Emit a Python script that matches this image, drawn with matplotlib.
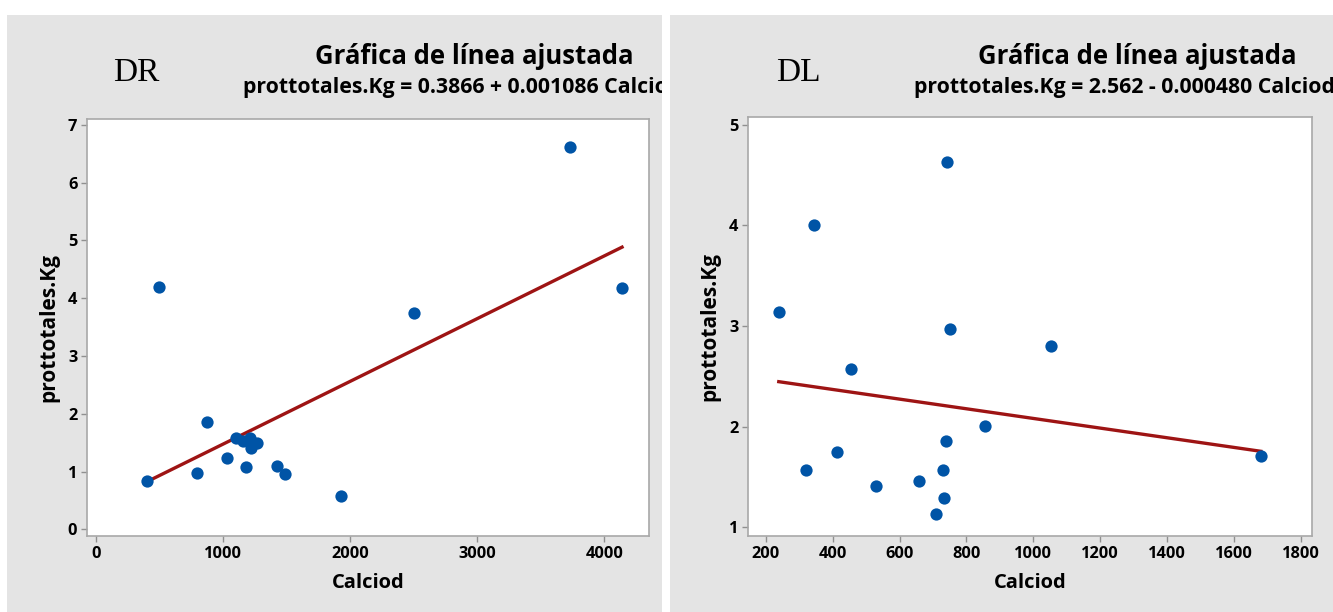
import matplotlib.pyplot as plt
from matplotlib.patches import Rectangle

# DR data
dr_calciod = [402, 499, 799, 875, 1032, 1105, 1162, 1215, 1220, 1272, 1183,
              1429, 1492, 1930, 2501, 3732, 4140]
dr_prot = [0.84, 4.20, 0.98, 1.85, 1.23, 1.575, 1.53, 1.575, 1.41, 1.50, 1.08,
           1.10, 0.96, 0.57, 3.74, 6.61, 4.17]
dr_b0, dr_b1 = 0.3866, 0.001086

# DL data
dl_calciod = [239, 343, 320, 414, 455, 530, 658, 710, 729, 734, 738, 743,
              752, 856, 1054, 1680]
dl_prot = [3.14, 4.00, 1.57, 1.75, 2.57, 1.41, 1.46, 1.13, 1.57, 1.29, 1.86,
           4.63, 2.97, 2.01, 2.80, 1.71]
dl_b0, dl_b1 = 2.562, -0.000480

plt.rcParams['font.family'] = ['Open Sans', 'DejaVu Sans']

W, H = 1333, 612
fig = plt.figure(figsize=(W / 100, H / 100), dpi=100)
fig.patch.set_facecolor('white')

GRAY = '#e4e4e4'
DOT = '#0054a6'
LINE = '#9e1414'


def px(x0, y0, x1, y1):
    # pixel box (top-left origin) -> figure fraction rect
    return [x0 / W, 1 - y1 / H, (x1 - x0) / W, (y1 - y0) / H]


def panel(x0, x1, ax_box, xs, ys, b0, b1, xlim, ylim, xticks, yticks,
          tag, subtitle):
    bg = Rectangle((x0 / W, 0), (x1 - x0) / W, 1 - 15 / H,
                   transform=fig.transFigure, facecolor=GRAY,
                   edgecolor='none', zorder=-5)
    fig.patches.append(bg)

    ax = fig.add_axes(px(*ax_box))
    ax.set_facecolor('white')
    xmin, xmax = min(xs), max(xs)
    ax.plot([xmin, xmax], [b0 + b1 * xmin, b0 + b1 * xmax],
            color=LINE, lw=2.4, zorder=2)
    ax.scatter(xs, ys, s=78, color=DOT, zorder=3, linewidths=0)
    ax.set_xlim(*xlim)
    ax.set_ylim(*ylim)
    ax.set_xticks(xticks)
    ax.set_yticks(yticks)
    for s in ax.spines.values():
        s.set_color('#a8a8a8')
        s.set_linewidth(1.2)
    ax.tick_params(length=4, width=1, color='#909090', labelsize=11.8,
                   pad=3)
    for lab in ax.get_xticklabels() + ax.get_yticklabels():
        lab.set_fontweight('bold')
    ax.set_xlabel('Calciod', fontsize=14.5, fontweight='bold', labelpad=8)
    ax.set_ylabel('prottotales.Kg', fontsize=15, fontweight='bold',
                  labelpad=6)

    t1 = fig.text((x0 + 467) / W, 1 - 57 / H,
                  'Gráfica de línea ajustada', ha='center', va='center',
                  fontsize=18.5, fontweight='bold')
    t2 = fig.text((x0 + 455) / W, 1 - 87 / H, subtitle, ha='center',
                  va='center', fontsize=15.3, fontweight='bold')
    t3 = fig.text((x0 + 106) / W, 1 - 73 / H, tag, ha='left', va='center',
                  fontsize=24, family='Liberation Serif')
    for t in (t1, t2, t3):
        t.set_clip_path(bg)
    return ax


panel(7, 662, (87, 119, 649, 536), dr_calciod, dr_prot, dr_b0, dr_b1,
      (-69, 4352), (-0.116, 7.10), [0, 1000, 2000, 3000, 4000],
      range(0, 8), 'DR',
      'prottotales.Kg = 0.3866 + 0.001086 Calciod')

panel(670, 1333, (748, 117, 1312, 536), dl_calciod, dl_prot, dl_b0, dl_b1,
      (147, 1833), (0.914, 5.077), range(200, 1801, 200),
      range(1, 6), 'DL',
      'prottotales.Kg = 2.562 - 0.000480 Calciod')

fig.savefig('out.png', dpi=100, facecolor=fig.get_facecolor())
